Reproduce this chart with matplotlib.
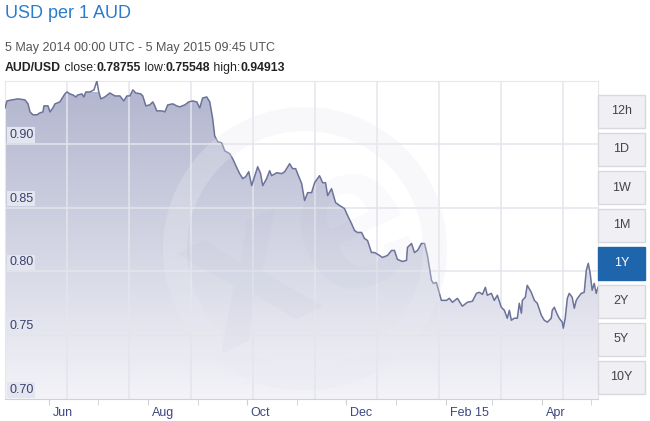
import numpy as np
import matplotlib
matplotlib.use('Agg')
import matplotlib.pyplot as plt
import matplotlib.dates as mdates
from matplotlib.patches import Wedge, Rectangle
from matplotlib.colors import LinearSegmentedColormap
from matplotlib.transforms import ScaledTranslation
from datetime import datetime, timedelta

plt.rcParams['font.family'] = ['Liberation Sans', 'DejaVu Sans']

# ======================
# DATA
# ======================
start = datetime(2014, 5, 5)
end = datetime(2015, 5, 5, 9, 45)

# days after 5 May 2014, AUD/USD rate
days = [0, 1.2, 4.3, 8.0, 12.3, 14.2, 15.4, 17.2, 19.7, 21.5, 23.4, 24.0, 26.5, 27.7,
        29.5, 30.8, 33.8, 36.9, 38.2, 40.0, 41.8, 43.7, 44.9, 47.4, 48.6, 49.8, 52.3,
        54.8, 56.6, 57.8, 59.1, 61.5, 64.6, 67.7, 70.8, 73.2, 75.1, 76.9, 78.8, 80.6,
        83.7, 84.9, 86.8, 89.2, 91.1, 92.3, 93.5, 96.6, 98.5, 100.3, 103.4, 105.8,
        107.7, 110.8, 113.2, 115.7, 118.2, 120.0, 121.8, 124.3, 126.2, 128.0, 129.2,
        131.1, 133.5, 135.4, 138.5, 140.3, 142.8, 144.6, 146.5, 148.3, 150.2, 152.0,
        154.5, 155.7, 157.5, 158.8, 161.2, 163.1, 164.3, 167.4, 170.5, 172.3, 175.4,
        177.2, 179.1, 180.3, 182.8, 184.6, 186.5, 188.9, 190.8, 193.8, 195.7, 197.5,
        198.8, 201.2, 203.7, 206.2, 209.2, 211.1, 213.5, 215.4, 217.2, 219.7, 221.5,
        223.4, 225.8, 227.7, 230.8, 232.6, 235.7, 238.2, 240.0, 241.8, 244.9, 247.4,
        248.0, 250.5, 252.3, 254.2, 256.6, 258.5, 260.3, 262.8, 264.0, 265.8, 267.7,
        268.9, 272.0, 273.8, 275.7, 278.8, 281.8, 284.9, 288.0, 290.5, 292.3, 294.2,
        296.0, 297.2, 299.7, 301.5, 303.4, 305.8, 307.7, 309.5, 310.8, 312.0, 313.8,
        315.7, 316.9, 318.2, 318.8, 320.6, 321.8, 324.3, 326.2, 328.0, 330.5, 332.3,
        334.2, 336.6, 337.2, 338.5, 339.7, 341.5, 343.4, 344.0, 345.2, 346.5, 347.7,
        349.5, 350.8, 352.0, 353.2, 355.1, 356.9, 358.2, 359.4, 360.6, 361.8, 363.1,
        364.3, 365.4]
rate = [0.9280, 0.9336, 0.9344, 0.9352, 0.9344, 0.9313, 0.9250, 0.9227, 0.9227, 0.9242,
        0.9250, 0.9297, 0.9297, 0.9250, 0.9281, 0.9313, 0.9328, 0.9391, 0.9406, 0.9391,
        0.9383, 0.9367, 0.9383, 0.9391, 0.9367, 0.9406, 0.9406, 0.9422, 0.9491, 0.9406,
        0.9352, 0.9367, 0.9398, 0.9375, 0.9375, 0.9336, 0.9375, 0.9375, 0.9422, 0.9398,
        0.9391, 0.9375, 0.9297, 0.9305, 0.9328, 0.9297, 0.9258, 0.9258, 0.9250, 0.9305,
        0.9313, 0.9297, 0.9289, 0.9305, 0.9328, 0.9336, 0.9328, 0.9281, 0.9359, 0.9367,
        0.9328, 0.9195, 0.9063, 0.9016, 0.9008, 0.8945, 0.8922, 0.8883, 0.8813, 0.8766,
        0.8727, 0.8742, 0.8781, 0.8672, 0.8773, 0.8820, 0.8766, 0.8672, 0.8727, 0.8789,
        0.8750, 0.8773, 0.8766, 0.8781, 0.8844, 0.8805, 0.8805, 0.8766, 0.8688, 0.8555,
        0.8617, 0.8617, 0.8695, 0.8750, 0.8695, 0.8695, 0.8594, 0.8648, 0.8539, 0.8516,
        0.8492, 0.8438, 0.8375, 0.8320, 0.8305, 0.8305, 0.8258, 0.8242, 0.8148, 0.8148,
        0.8125, 0.8109, 0.8125, 0.8164, 0.8164, 0.8094, 0.8078, 0.8086, 0.8188, 0.8219,
        0.8148, 0.8164, 0.8219, 0.8219, 0.8125, 0.7930, 0.7906, 0.7914, 0.7828, 0.7773,
        0.7773, 0.7789, 0.7758, 0.7789, 0.7727, 0.7758, 0.7766, 0.7828, 0.7836, 0.7820,
        0.7875, 0.7813, 0.7828, 0.7773, 0.7813, 0.7719, 0.7695, 0.7633, 0.7695, 0.7617,
        0.7633, 0.7633, 0.7750, 0.7672, 0.7773, 0.7797, 0.7891, 0.7836, 0.7773, 0.7750,
        0.7656, 0.7617, 0.7602, 0.7633, 0.7695, 0.7719, 0.7680, 0.7633, 0.7602, 0.7555,
        0.7633, 0.7789, 0.7828, 0.7797, 0.7711, 0.7773, 0.7797, 0.7828, 0.7836, 0.8008,
        0.8063, 0.7984, 0.7852, 0.7906, 0.7828, 0.7876]

y_levels = [0.70, 0.75, 0.80, 0.85, 0.90]
y_labels = ['0.70', '0.75', '0.80', '0.85', '0.90']
major_months = [datetime(2014, 6, 1), datetime(2014, 8, 1), datetime(2014, 10, 1),
                datetime(2014, 12, 1), datetime(2015, 2, 1), datetime(2015, 4, 1)]
major_labels = ['Jun', 'Aug', 'Oct', 'Dec', 'Feb 15', 'Apr']
minor_months = [datetime(2014, 7, 1), datetime(2014, 9, 1), datetime(2014, 11, 1),
                datetime(2015, 1, 1), datetime(2015, 3, 1), datetime(2015, 5, 1)]
buttons = ['12h', '1D', '1W', '1M', '1Y', '2Y', '5Y', '10Y']
selected = '1Y'

title = 'USD per 1 AUD'
period = '5 May 2014 00:00 UTC - 5 May 2015 09:45 UTC'
stats = [('AUD/USD', 'bold'), (' close:', 'normal'), ('0.78755', 'bold'),
         (' low:', 'normal'), ('0.75548', 'bold'), (' high:', 'normal'), ('0.94913', 'bold')]

# ======================
# FIGURE
# ======================
W, H = 650, 421
fig = plt.figure(figsize=(W / 100, H / 100), dpi=100)
fig.patch.set_facecolor('white')
ax = fig.add_axes([5 / W, 22 / H, 593 / W, 318 / H])

x = mdates.date2num([start + timedelta(days=d) for d in days])
x0, x1 = mdates.date2num(start), mdates.date2num(end)
y0, y1 = 0.70, 0.9492

# gradient fill under the line
fill = ax.fill_between(x, rate, y0, color='none', lw=0)
cmap = LinearSegmentedColormap.from_list('fx', ['#f3f3f8', '#b3b7cf'])
grad = np.linspace(0, 1, 256).reshape(-1, 1)
img = ax.imshow(grad, cmap=cmap, aspect='auto', origin='lower',
                extent=[x0, x1, y0, 0.94], zorder=1)
img.set_clip_path(fill.get_paths()[0], transform=ax.transData)

# grid
ax.hlines(y_levels[1:], x0, x1, color='#e4e5ec', lw=1.1, zorder=2)
ax.vlines(np.arange(1, 10) * 0.1046, 0, 1, transform=ax.transAxes,
          color='#e4e5ec', lw=1.1, zorder=2)

ax.plot(x, rate, color='#6c7299', lw=1.1, zorder=4)

# faint watermark
ring = Wedge((3.05, 1.72), 1.42, 0, 360, width=0.24, transform=fig.dpi_scale_trans,
             facecolor='#e9eaf1', edgecolor='none', alpha=0.3, zorder=5)
ax.add_patch(ring)
ring.set_clip_path(ax.patch)
wm = ax.text(0.5, 0.45, 'xe', transform=ax.transAxes, fontsize=150, weight='bold',
             color='#8a90b4', alpha=0.045, rotation=25, ha='center', va='center', zorder=5)
wm.set_clip_path(ax.patch)

ax.set_xlim(x0, x1)
ax.set_ylim(y0, y1)
ax.set_yticks([])
ax.set_xticks(mdates.date2num(major_months))
ax.set_xticklabels(major_labels)
ax.set_xticks(mdates.date2num(minor_months), minor=True)
ax.tick_params(axis='x', which='both', direction='out', length=4, color='#cfd0d8',
               labelsize=9, labelcolor='#3d4782', pad=2)
for lbl in ax.get_xticklabels():
    lbl.set_ha('left')
    lbl.set_transform(lbl.get_transform() + ScaledTranslation(0.04, 0, fig.dpi_scale_trans))

for s in ['top', 'left', 'right']:
    ax.spines[s].set_color('#e6e6ec')
ax.spines['bottom'].set_color('#cfd0d8')

# y labels inside the plot
for v, s in zip(y_levels, y_labels):
    ax.annotate(s, xy=(0, v), xycoords=('axes fraction', 'data'), xytext=(4, 3),
                textcoords='offset pixels', ha='left', va='bottom', fontsize=9,
                color='#3b4170', zorder=6,
                bbox=dict(boxstyle='square,pad=0.15', facecolor='#e3e5ef', edgecolor='none'))

# header text
fig.text(5 / W, 1 - 14 / H, title, fontsize=13, color='#2a7ccc', va='center')
fig.text(5 / W, 1 - 48 / H, period, fontsize=9, color='#555555', va='center')
fig.canvas.draw()
r = fig.canvas.get_renderer()
px = 5
for s, w in stats:
    t = fig.text(px / W, 1 - 68 / H, s, fontsize=8.8, weight=w, color='#222222', va='center')
    px = t.get_window_extent(r).x1

# range buttons
for i, b in enumerate(buttons):
    top = 95 + 38 * i
    on = b == selected
    fig.patches.append(Rectangle((598 / W, 1 - (top + 33) / H), 47 / W, 33 / H,
                                 transform=fig.transFigure,
                                 facecolor='#1f65ab' if on else '#f0f0f4',
                                 edgecolor='#1f65ab' if on else '#d8d8de', lw=1))
    fig.text(621.5 / W, 1 - (top + 16.5) / H, b, fontsize=9, ha='center', va='center',
             color='white' if on else '#444444')

fig.savefig('out.png', dpi=100)
